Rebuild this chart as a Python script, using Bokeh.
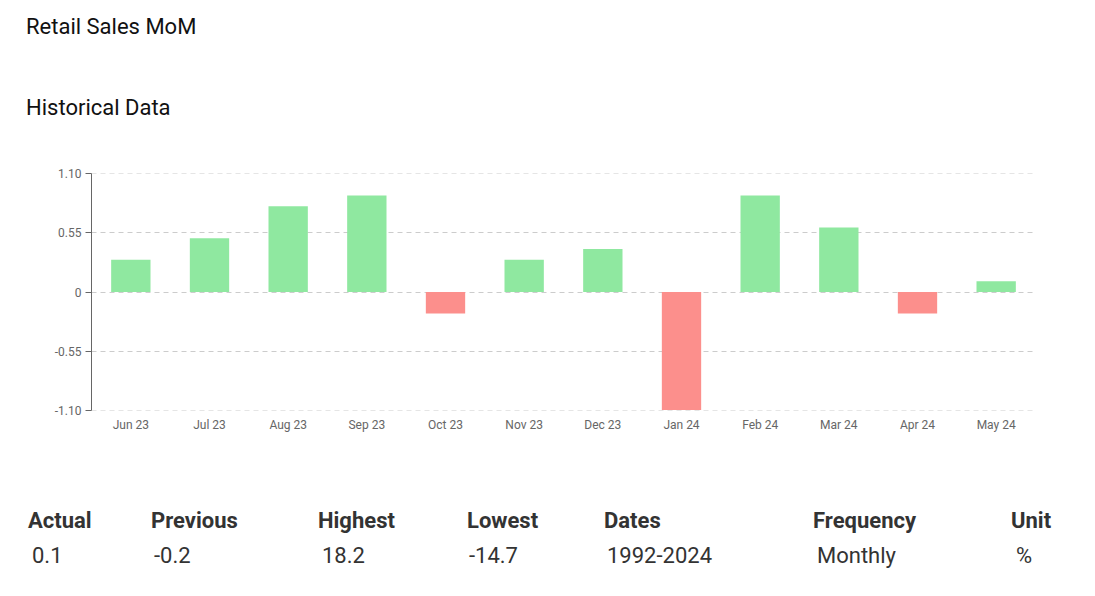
from bokeh.plotting import figure
from bokeh.layouts import column
from bokeh.models import ColumnDataSource, FixedTicker, Range1d, Div
from bokeh.embed import file_html
from bokeh.resources import INLINE

# ---- data ----
months = ["Jun 23", "Jul 23", "Aug 23", "Sep 23", "Oct 23", "Nov 23",
          "Dec 23", "Jan 24", "Feb 24", "Mar 24", "Apr 24", "May 24"]
values = [0.3, 0.5, 0.8, 0.9, -0.2, 0.3, 0.4, -1.1, 0.9, 0.6, -0.2, 0.1]
y_ticks = [-1.10, -0.55, 0, 0.55, 1.10]
y_tick_labels = ["-1.10", "-0.55", "0", "0.55", "1.10"]
title_text = "Retail Sales MoM"
subtitle_text = "Historical Data"
table_headers = ["Actual", "Previous", "Highest", "Lowest", "Dates", "Frequency", "Unit"]
table_values = ["0.1", "-0.2", "18.2", "-14.7", "1992-2024", "Monthly", "%"]

# ---- layout constants ----
W = 1095
TOP_H, MID_H, BOT_H = 150, 300, 146
FL, FR = 91, 1035
FT, FB = 173, 410               # frame edges in page pixels
header_x = [28, 151, 318, 467, 604, 813, 1011]
value_x = [32, 154, 322, 469, 607, 817, 1016]


def span(txt, x, cy, weight="normal", color="#333333", size=22):
    return (f'<span style="position:absolute;left:{x}px;top:{cy - 13}px;'
            f'line-height:26px;font-family:Roboto;font-size:{size}px;'
            f'font-weight:{weight};color:{color};white-space:nowrap">{txt}</span>')


def box(inner, h):
    return (f'<div style="position:relative;width:{W}px;height:{h}px;'
            f'margin:0;padding:0">{inner}</div>')


# ---- top titles ----
top_html = box(span(title_text, 26, 27, color="#111111") +
               span(subtitle_text, 26, 108, color="#111111"), TOP_H)
top = Div(text=top_html, width=W, height=TOP_H, margin=0)

# ---- chart ----
colors = ["#8fe8a0" if v >= 0 else "#fc8f8c" for v in values]
src = ColumnDataSource(dict(m=months, v=values, c=colors))

p = figure(x_range=months, y_range=Range1d(-1.104, 1.104), width=W, height=MID_H,
           output_backend="svg", toolbar_location=None,
           min_border_left=FL, min_border_top=FT - TOP_H,
           min_border_right=W - FR, min_border_bottom=TOP_H + MID_H - FB,
           margin=0)
p.outline_line_color = None
p.background_fill_color = "white"
p.border_fill_color = "white"

p.vbar(x="m", top="v", bottom=0, width=0.5, fill_color="c", line_color=None, source=src)

p.yaxis.ticker = FixedTicker(ticks=y_ticks)
p.yaxis.major_label_overrides = {t: l for t, l in zip(y_ticks, y_tick_labels)}
p.yaxis.axis_line_color = "#666666"
p.yaxis.major_tick_line_color = "#666666"
p.yaxis.major_tick_out = 6
p.yaxis.major_tick_in = 0
p.yaxis.minor_tick_line_color = None
p.yaxis.major_label_text_font = "Roboto"
p.yaxis.major_label_text_font_size = "12px"
p.yaxis.major_label_text_color = "#666666"
p.yaxis.major_label_standoff = 4

p.xaxis.axis_line_color = None
p.xaxis.major_tick_line_color = None
p.xaxis.major_tick_out = 0
p.xaxis.major_tick_in = 0
p.xaxis.minor_tick_line_color = None
p.xaxis.major_label_text_font = "Roboto"
p.xaxis.major_label_text_font_size = "12px"
p.xaxis.major_label_text_color = "#666666"
p.xaxis.major_label_standoff = 7

p.xgrid.grid_line_color = None
p.ygrid.ticker = FixedTicker(ticks=y_ticks)
p.ygrid.grid_line_color = "#cccccc"
p.ygrid.grid_line_dash = "5 4"
p.ygrid.grid_line_width = 1

# ---- bottom table ----
off = TOP_H + MID_H
bot_inner = "".join(span(h, x, 521 - off, weight="bold") for h, x in zip(table_headers, header_x))
bot_inner += "".join(span(v, x, 556 - off) for v, x in zip(table_values, value_x))
bot = Div(text=box(bot_inner, BOT_H), width=W, height=BOT_H, margin=0)

layout = column(top, p, bot, spacing=0)
open("out.html", "w").write(file_html(layout, INLINE))
